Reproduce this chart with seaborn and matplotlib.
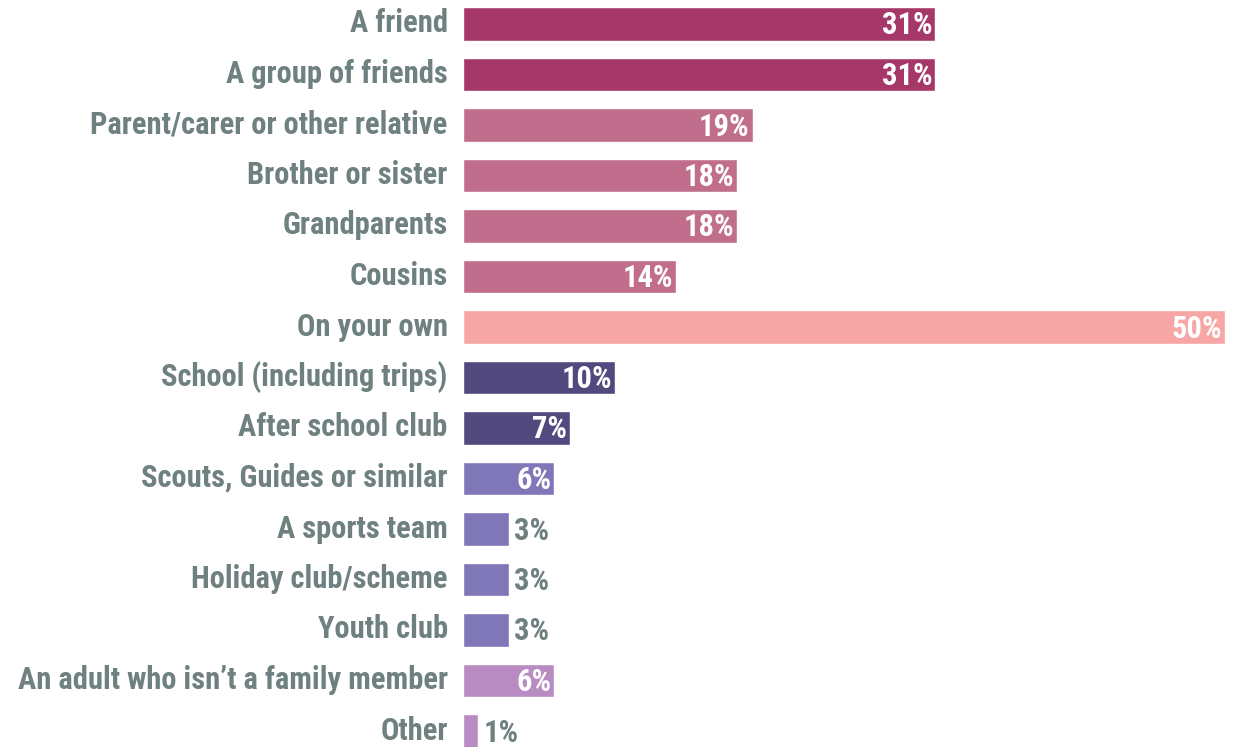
import matplotlib
matplotlib.use("Agg")
import matplotlib.pyplot as plt
import matplotlib.transforms as mtransforms
from matplotlib import font_manager
import seaborn as sns
import pandas as pd

categories = [
    "A friend", "A group of friends", "Parent/carer or other relative",
    "Brother or sister", "Grandparents", "Cousins", "On your own",
    "School (including trips)", "After school club", "Scouts, Guides or similar",
    "A sports team", "Holiday club/scheme", "Youth club",
    "An adult who isn\u2019t a family member", "Other",
]
values = [31, 31, 19, 18, 18, 14, 50, 10, 7, 6, 3, 3, 3, 6, 1]
colors = [
    "#A53868", "#A53868", "#C06E8C", "#C06E8C", "#C06E8C", "#C06E8C",
    "#F7A6A6", "#524A7E", "#524A7E", "#7F77B8", "#7F77B8", "#7F77B8",
    "#7F77B8", "#B88CC2", "#B88CC2",
]

sns.set_theme(style="white")
available = {f.name for f in font_manager.fontManager.ttflist}
family = "DejaVu Sans"
for name in ["Roboto Condensed", "Liberation Sans Narrow", "Open Sans Condensed", "Lato"]:
    if name in available:
        family = name
        break
plt.rcParams["font.family"] = [family, "DejaVu Sans"]

label_color = "#6E8080"
df = pd.DataFrame({"category": categories, "value": values})

W, H = 1236, 747
fig = plt.figure(figsize=(W / 100, H / 100), dpi=100)
ax = fig.add_axes([463 / W, 1 - 756.25 / H, (1225 - 463) / W, 757.5 / H])

sns.barplot(data=df, y="category", x="value", hue="category",
            palette=dict(zip(categories, colors)), order=categories,
            width=0.67, legend=False, ax=ax, saturation=1)

ax.set_xlim(0, 50)
ax.set_ylim(14.5, -0.5)
ax.set_xlabel("")
ax.set_ylabel("")
ax.set_xticks([])
for s in ax.spines.values():
    s.set_visible(False)
ax.tick_params(axis="y", length=0, pad=11)
lift = mtransforms.ScaledTranslation(0, 0.035, fig.dpi_scale_trans)
for t in ax.get_yticklabels():
    t.set_color(label_color)
    t.set_fontsize(22)
    t.set_fontweight("bold")
    t.set_transform(t.get_transform() + lift)

drop = mtransforms.ScaledTranslation(0, -0.015, fig.dpi_scale_trans)
for i, v in enumerate(values):
    if v >= 6:
        ax.text(v - 0.2, i, f"{v}%", ha="right", va="center", color="white",
                fontsize=22, fontweight="bold", transform=ax.transData + drop)
    else:
        ax.text(v + 0.35, i, f"{v}%", ha="left", va="center", color=label_color,
                fontsize=22, fontweight="bold", transform=ax.transData + drop)

fig.savefig("out.png", dpi=100)
